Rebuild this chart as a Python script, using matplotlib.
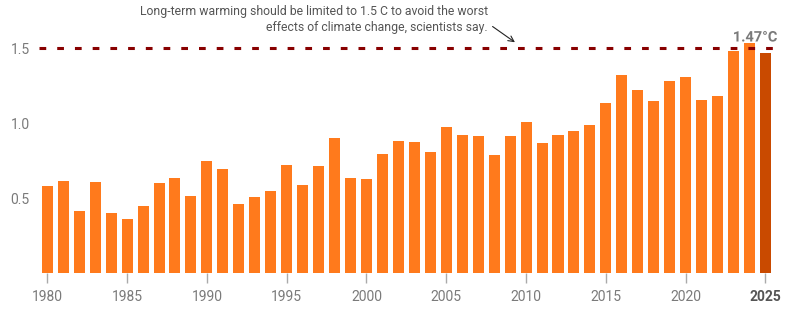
import matplotlib.pyplot as plt
import matplotlib.patheffects as pe

years = list(range(1980, 2026))
anomaly = [0.58, 0.615, 0.415, 0.61, 0.40, 0.36, 0.45, 0.60, 0.635, 0.515,
           0.75, 0.695, 0.46, 0.51, 0.55, 0.72, 0.59, 0.715, 0.90, 0.635,
           0.63, 0.795, 0.885, 0.875, 0.81, 0.975, 0.92, 0.915, 0.79, 0.915,
           1.01, 0.87, 0.92, 0.95, 0.99, 1.135, 1.32, 1.22, 1.15, 1.28,
           1.31, 1.155, 1.18, 1.48, 1.535, 1.47]
xtick_years = [1980, 1985, 1990, 1995, 2000, 2005, 2010, 2015, 2020, 2025]
ytick_vals = [0.5, 1.0, 1.5]
limit = 1.5

orange = '#ff7a1c'
dark_orange = '#c94a00'
grey = '#7a7a7a'

plt.rcParams['font.family'] = ['Roboto', 'DejaVu Sans']

fig = plt.figure(figsize=(7.87, 3.10), dpi=100)
ax = fig.add_axes([0.0483, 0.1184, 0.9428, 0.784])

colors = [orange] * (len(years) - 1) + [dark_orange]
ax.bar(years, anomaly, width=0.69, color=colors, zorder=2)

ax.plot([1979.45, 2025.6], [limit, limit], color='#880000', lw=2.2,
        dashes=(2.2, 3.6), zorder=3)

ax.set_xlim(1979.417, 2025.91)
ax.set_ylim(0, 1.62)

ax.set_yticks(ytick_vals)
ax.set_yticklabels(['0.5', '1.0', '1.5'])
ax.tick_params(axis='y', length=0, pad=6, labelsize=10, labelcolor=grey)

ax.set_xticks(xtick_years)
ax.set_xticklabels([str(y) for y in xtick_years])
ax.tick_params(axis='x', length=7, width=1, color='#aaaaaa', pad=5,
               labelsize=10, labelcolor=grey)
last = ax.get_xticklabels()[-1]
last.set_fontweight('bold')
last.set_color('#555555')

for s in ax.spines.values():
    s.set_visible(False)

ax.text(years[-1] + 0.75, anomaly[-1] + 0.055, f'{anomaly[-1]:.2f}°C',
        ha='right', va='bottom', fontsize=10.5, fontweight='bold', color=grey,
        zorder=4, path_effects=[pe.withStroke(linewidth=2, foreground='white')])

ax.text(2007.6, 1.596,
        'Long-term warming should be limited to 1.5 C to avoid the worst\n'
        'effects of climate change, scientists say.',
        ha='right', va='bottom', fontsize=8.8, color='#555555',
        multialignment='right', clip_on=False, linespacing=1.25)
ax.annotate('', xy=(2009.3, 1.54), xytext=(2007.9, 1.645),
            annotation_clip=False,
            arrowprops=dict(arrowstyle='->', color='#222222', lw=0.8,
                            shrinkA=0, shrinkB=0))

fig.savefig('out.png', dpi=100)
